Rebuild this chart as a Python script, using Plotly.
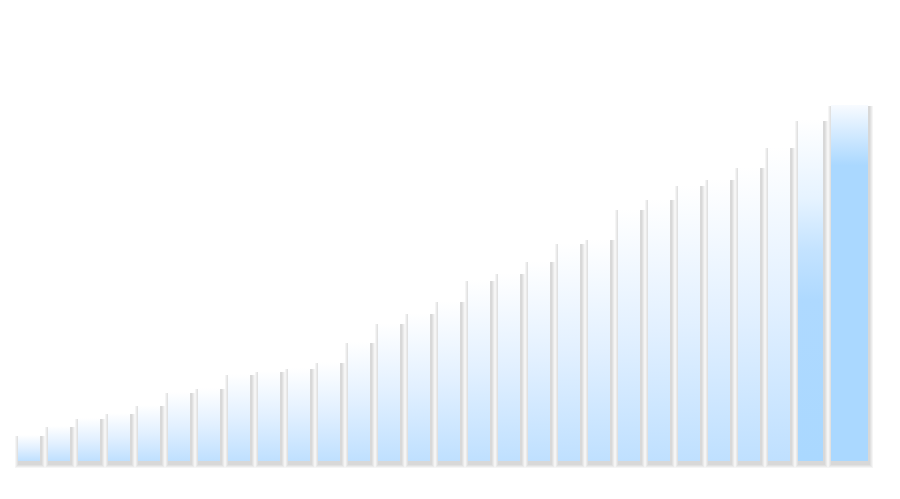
import plotly.graph_objects as go

# ---------------- data ----------------
categories = [str(i + 1) for i in range(28)]
values = [26, 35, 43, 48, 56, 69, 73, 87, 90, 93, 99, 119, 138, 148,
          160, 181, 188, 200, 218, 222, 252, 262, 276, 282, 294, 314, 341, 356]

# ---------------- style ----------------
PAGE_W, PAGE_H = 900, 499
BODY_MARGIN = 8          # default HTML body margin
W, H = PAGE_W - 2 * BODY_MARGIN, PAGE_H - 2 * BODY_MARGIN
PITCH_PX = 30.0          # pixels per category slot
FIRST_CENTER_PX = 29.0 - BODY_MARGIN   # centre of first bar (figure px)
BASELINE_PX = 461.0 - BODY_MARGIN      # y pixel of value 0 (figure px)
BAR_W_PX = 22.0

# emphasised (hover-animated) bars: index -> (width px, shift px, colorscale)
normal_scale = [[0, "#bfe0ff"], [0.5, "#e2f0ff"], [1, "#ffffff"]]
emphasis = {
    26: (25.0, 1.5, [[0, "#aad8ff"], [0.47, "#aed9ff"], [0.62, "#c4e3ff"],
                     [0.77, "#e6f3ff"], [1, "#ffffff"]]),
    27: (37.0, 10.5, [[0, "#aad8ff"], [0.83, "#aad8ff"], [0.92, "#d3eaff"],
                      [1, "#f8fbff"]]),
}

px = 1.0 / PITCH_PX  # one pixel in x data units
x_range = [-FIRST_CENTER_PX / PITCH_PX, (W - FIRST_CENTER_PX) / PITCH_PX]
y_range = [-(H - BASELINE_PX), BASELINE_PX]  # 1 value unit = 1 px

xs = list(range(len(values)))
widths_px, shifts_px, scales = [], [], []
for i in xs:
    if i in emphasis:
        w, s, cs = emphasis[i]
    else:
        w, s, cs = BAR_W_PX, 0.0, normal_scale
    widths_px.append(w)
    shifts_px.append(s)
    scales.append(cs)

fig = go.Figure()

# soft shadow (several stacked translucent bars), none above the bar top
SH_DX, SH_DY = 1.0, 3.0
for e in [4, 3, 2, 1]:
    fig.add_trace(go.Bar(
        x=xs,
        y=[v + SH_DY + e - 1 for v in values],
        base=[-SH_DY - e] * len(values),
        width=[(w + 2 * e) * px for w in widths_px],
        offset=[(s + SH_DX - w / 2 - e) * px for w, s in zip(widths_px, shifts_px)],
        marker=dict(color="rgba(0,0,0,0.04)", line=dict(width=0)),
        hoverinfo="skip",
        showlegend=False,
    ))

# gradient bars
for i, v in enumerate(values):
    cx = i + shifts_px[i] * px
    hw = widths_px[i] / 2 * px
    fig.add_trace(go.Scatter(
        x=[cx - hw, cx + hw, cx + hw, cx - hw, cx - hw],
        y=[0, 0, v, v, 0],
        mode="lines",
        fill="toself",
        line=dict(width=0, color="rgba(0,0,0,0)"),
        fillgradient=dict(type="vertical", colorscale=scales[i], start=0, stop=v),
        name=categories[i],
        hoverinfo="skip",
        showlegend=False,
    ))

fig.update_layout(
    width=W, height=H,
    margin=dict(l=0, r=0, t=0, b=0),
    paper_bgcolor="#ffffff",
    plot_bgcolor="#ffffff",
    barmode="overlay",
    bargap=0,
    showlegend=False,
    hovermode=False,
    xaxis=dict(range=x_range, visible=False, fixedrange=True),
    yaxis=dict(range=y_range, visible=False, fixedrange=True),
)

fig.write_html("out.html", config={"displayModeBar": False})
